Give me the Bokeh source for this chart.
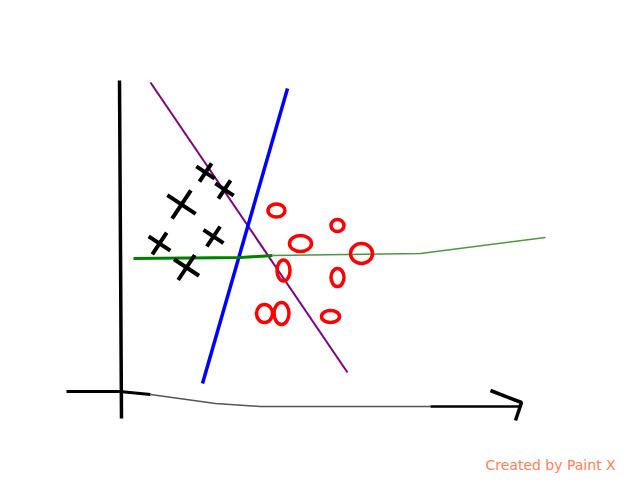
from bokeh.plotting import figure
from bokeh.models import Range1d, Label
from bokeh.embed import file_html
from bokeh.resources import INLINE

# Class "x" samples
x_cls_x = [205, 224, 181, 159, 213, 186]
x_cls_y = [172, 189, 204, 243, 236, 267]
x_cls_size = [22, 22, 34, 26, 24, 30]

# Class "o" samples
o_cls_x = [276, 337, 300, 361, 283, 337, 264, 281, 330]
o_cls_y = [210, 225, 243, 253, 270, 277, 313, 313, 316]
o_cls_w = [17, 13, 22, 22, 13, 13, 16, 15, 18]
o_cls_h = [13, 12, 16, 20, 21, 18, 18, 22, 12]

# Separating lines
purple_x = [150, 347]
purple_y = [82, 372]
blue_x = [287, 202]
blue_y = [88, 383]
green_dark_x = [133, 240, 272]
green_dark_y = [258, 257, 255]
green_light_x = [272, 420, 545]
green_light_y = [255, 253, 237]

# Hand-drawn axes
yaxis_x = [119, 120, 121]
yaxis_y = [80, 250, 418]
xaxis_x = [66, 119, 150, 215, 260, 430, 520]
xaxis_y = [391, 391, 394, 403, 406, 406, 406]
arrow_x = [490, 521, 515]
arrow_y = [390, 402, 420]

p = figure(width=640, height=480, output_backend="svg", toolbar_location=None,
           x_range=Range1d(0, 640), y_range=Range1d(480, 0), min_border=0)
p.axis.visible = False
p.grid.visible = False
p.outline_line_color = None
p.background_fill_color = "white"
p.border_fill_color = "white"

p.line(yaxis_x, yaxis_y, line_color="black", line_width=3.5)
p.line(xaxis_x[:3], xaxis_y[:3], line_color="black", line_width=3)
p.line(xaxis_x[2:6], xaxis_y[2:6], line_color="#555555", line_width=1.5)
p.line(xaxis_x[5:], xaxis_y[5:], line_color="black", line_width=2.5)
p.line(arrow_x, arrow_y, line_color="black", line_width=3.5)

p.line(purple_x, purple_y, line_color="purple", line_width=2)
p.line(blue_x, blue_y, line_color="blue", line_width=3.5)
p.line(green_dark_x, green_dark_y, line_color="green", line_width=3)
p.line(green_light_x, green_light_y, line_color="#4a9a3a", line_width=1.5)

p.scatter(x_cls_x, x_cls_y, marker="x", size=x_cls_size, line_color="black",
          line_width=4, angle=0.2)
p.ellipse(o_cls_x, o_cls_y, width=o_cls_w, height=o_cls_h, fill_color=None,
          line_color="red", line_width=3.5)

p.add_layout(Label(x=485, y=472, text="Created by Paint X", text_color="#ff8052",
                   text_font="DejaVu Sans", text_font_size="14px"))

open("out.html", "w").write(file_html(p, INLINE))
